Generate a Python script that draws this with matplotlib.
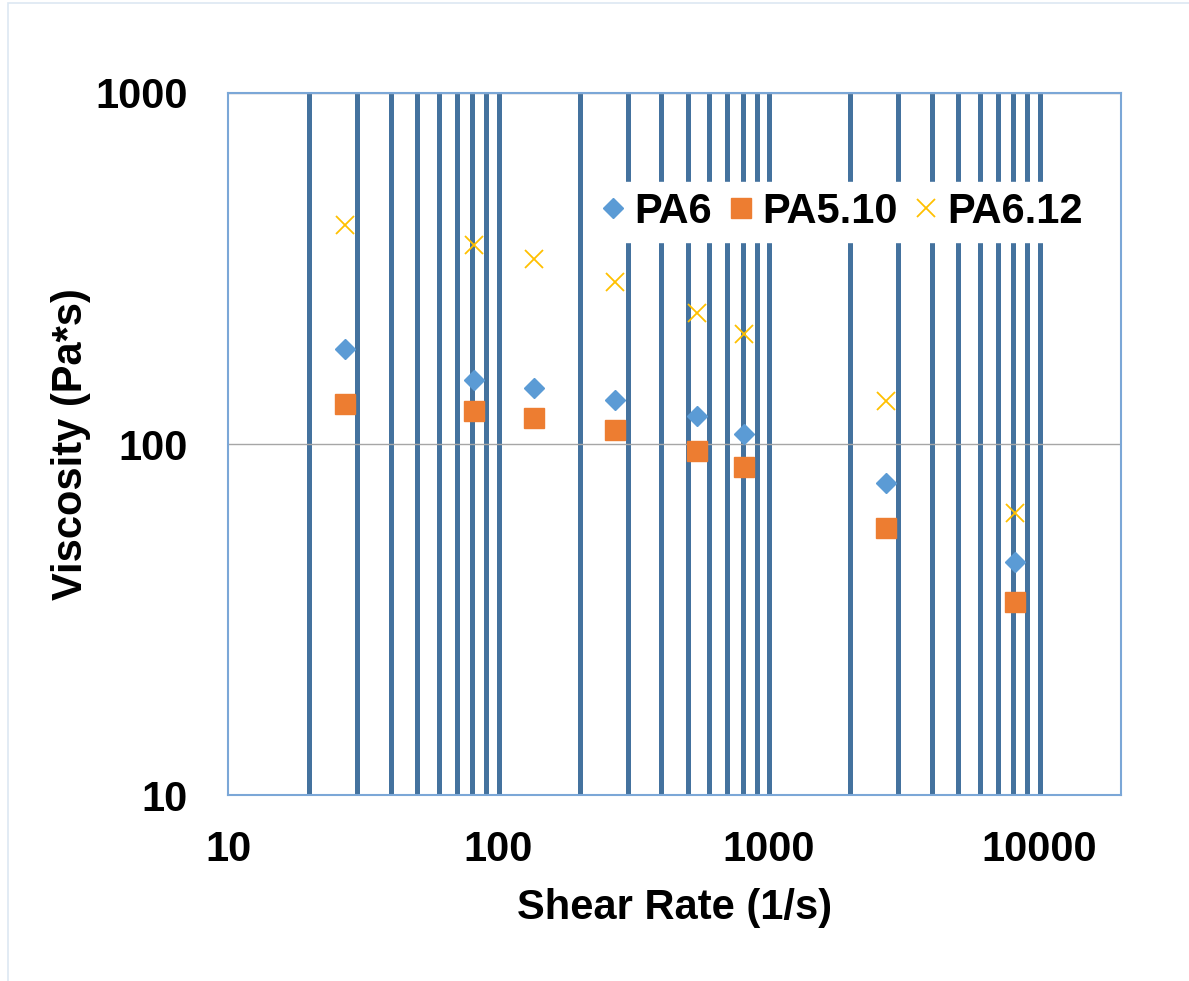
import numpy as np
import matplotlib
matplotlib.use("Agg")
import matplotlib.pyplot as plt
from matplotlib.ticker import FixedLocator, NullFormatter
from matplotlib.patches import Rectangle

# shear rate (1/s) and viscosity (Pa*s) for the three polyamides
shear_rate = [27, 81, 135, 270, 540, 810, 2700, 8100]
pa6 = [186, 152, 144.5, 133.5, 120, 107, 77.5, 46]
pa510 = [130, 124, 118.5, 109.5, 95.5, 86, 57.5, 35.5]
pa612 = [420, 369, 336, 289, 236, 206, 133, 63.5]

x_ticks = [10, 100, 1000, 10000]
y_ticks = [10, 100, 1000]

plt.rcParams['font.family'] = ['Liberation Sans', 'DejaVu Sans']
plt.rcParams['font.weight'] = 'bold'

fig = plt.figure(figsize=(11.89, 9.81), dpi=100)
ax = fig.add_axes([0.1918, 0.1896, 0.751, 0.7156])

# faint chart-area border
fig.patches.append(Rectangle((8 / 1189, -0.1), 1.2, 1.1 - 3 / 981,
                             transform=fig.transFigure, fill=False,
                             edgecolor='#dde7f2', linewidth=1.2))

ax.set_xscale('log')
ax.set_yscale('log')
ax.set_xlim(10, 20000)
ax.set_ylim(10, 1000)

# thick vertical lines at 20..100, 200..1000, 2000..10000
vlines = [m * 10 ** k for k in (1, 2, 3) for m in range(2, 11)]
ax.xaxis.remove_overlapping_locs = False
ax.xaxis.set_minor_locator(FixedLocator(vlines))
ax.xaxis.set_minor_formatter(NullFormatter())
ax.grid(True, which='minor', axis='x', color='#44729e', linewidth=3.6)
ax.yaxis.set_minor_locator(FixedLocator([]))
ax.grid(True, which='major', axis='y', color='#a6a6a6', linewidth=1.0)

ax.xaxis.set_major_locator(FixedLocator(x_ticks))
ax.yaxis.set_major_locator(FixedLocator(y_ticks))
ax.set_xticklabels([str(t) for t in x_ticks])
ax.set_yticklabels([str(t) for t in y_ticks])
ax.tick_params(which='both', length=0, labelsize=30)
ax.tick_params(axis='x', pad=25)
ax.tick_params(axis='y', pad=29)
for lab in ax.get_xticklabels() + ax.get_yticklabels():
    lab.set_fontweight('bold')

for s in ax.spines.values():
    s.set_color('#7ba7d7')
    s.set_linewidth(1.5)

ax.plot(shear_rate, pa6, linestyle='none', marker='D', markersize=10,
        color='#5b9bd5', label='PA6', zorder=3)
ax.plot(shear_rate, pa510, linestyle='none', marker='s', markersize=14,
        color='#ed7d31', label='PA5.10', zorder=3)
ax.plot(shear_rate, pa612, linestyle='none', marker='x', markersize=13,
        markeredgewidth=1.3, color='#ffc000', label='PA6.12', zorder=3)

leg = ax.legend(loc='center', bbox_to_anchor=(0.685, 0.8305), ncol=3,
                frameon=True, facecolor='white', edgecolor='white',
                framealpha=1, fancybox=False, handletextpad=0.1,
                columnspacing=0.3, handlelength=0.8, borderpad=0.25,
                prop={'size': 30, 'weight': 'bold'})

ax.set_xlabel('Shear Rate (1/s)', fontsize=30, fontweight='bold', labelpad=13)
ax.set_ylabel('Viscosity (Pa*s)', fontsize=30, fontweight='bold', labelpad=3)

fig.savefig('out.png', dpi=100)
